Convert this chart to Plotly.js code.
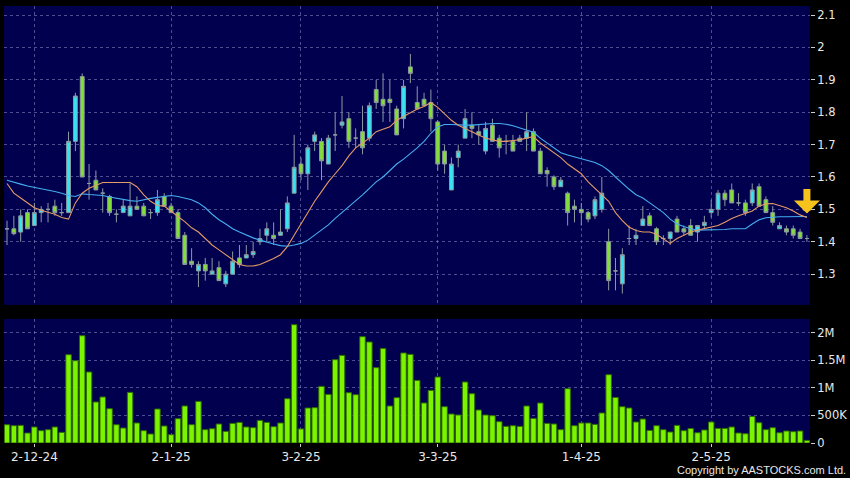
<!DOCTYPE html>
<html>
<head>
<meta charset="utf-8">
<script src="https://cdn.plot.ly/plotly-3.0.1.min.js"></script>
<style>
  html, body { margin: 0; padding: 0; background: #000; }
  #chart { width: 850px; height: 478px; }
</style>
</head>
<body>
<div id="chart"></div>
<script>
// ---- Data ----
const dates = [
  "2024-11-26","2024-11-27","2024-11-28","2024-11-29",
  "2024-12-02","2024-12-03","2024-12-04","2024-12-05","2024-12-06","2024-12-09","2024-12-10","2024-12-11","2024-12-12","2024-12-13",
  "2024-12-16","2024-12-17","2024-12-18","2024-12-19","2024-12-20","2024-12-23","2024-12-24","2024-12-27","2024-12-30","2024-12-31",
  "2025-01-02","2025-01-03","2025-01-06","2025-01-07","2025-01-08","2025-01-09","2025-01-10","2025-01-13","2025-01-14","2025-01-15",
  "2025-01-16","2025-01-17","2025-01-20","2025-01-21","2025-01-22","2025-01-23","2025-01-24","2025-01-27","2025-01-28",
  "2025-02-03","2025-02-04","2025-02-05","2025-02-06","2025-02-07","2025-02-10","2025-02-11","2025-02-12","2025-02-13","2025-02-14",
  "2025-02-17","2025-02-18","2025-02-19","2025-02-20","2025-02-21","2025-02-24","2025-02-25","2025-02-26","2025-02-27","2025-02-28",
  "2025-03-03","2025-03-04","2025-03-05","2025-03-06","2025-03-07","2025-03-10","2025-03-11","2025-03-12","2025-03-13","2025-03-14",
  "2025-03-17","2025-03-18","2025-03-19","2025-03-20","2025-03-21","2025-03-24","2025-03-25","2025-03-26","2025-03-27","2025-03-28","2025-03-31",
  "2025-04-01","2025-04-02","2025-04-03","2025-04-07","2025-04-08","2025-04-09","2025-04-10","2025-04-11","2025-04-14","2025-04-15",
  "2025-04-16","2025-04-17","2025-04-22","2025-04-23","2025-04-24","2025-04-25","2025-04-28","2025-04-29","2025-04-30",
  "2025-05-02","2025-05-06","2025-05-07","2025-05-08","2025-05-09","2025-05-12","2025-05-13","2025-05-14","2025-05-15","2025-05-16",
  "2025-05-19","2025-05-20","2025-05-21","2025-05-22","2025-05-23"
];

const openP = [
  1.44,1.44,1.43,1.49,1.45,1.49,1.50,1.51,1.49,1.49,1.71,1.91,1.58,1.59,1.55,1.54,1.485,1.49,1.48,1.51,
  1.51,1.49,1.49,1.54,1.51,1.49,1.42,1.34,1.31,1.33,1.30,1.32,1.27,1.30,1.35,1.35,1.36,1.40,1.42,1.42,
  1.42,1.44,1.55,1.64,1.61,1.71,1.71,1.64,1.73,1.76,1.78,1.72,1.74,1.72,1.87,1.84,1.84,1.81,1.78,1.94,
  1.83,1.84,1.83,1.77,1.68,1.56,1.66,1.72,1.76,1.74,1.68,1.76,1.72,1.71,1.71,1.72,1.72,1.74,1.68,1.62,
  1.60,1.57,1.55,1.51,1.50,1.49,1.48,1.50,1.40,1.31,1.27,1.41,1.41,1.45,1.48,1.44,1.41,1.41,1.47,1.44,
  1.45,1.43,1.45,1.49,1.50,1.55,1.56,1.52,1.52,1.52,1.57,1.53,1.49,1.44,1.44,1.44,1.43,1.41
];
const highP = [
  1.465,1.48,1.50,1.50,1.52,1.51,1.52,1.53,1.52,1.74,1.86,1.92,1.64,1.62,1.565,1.545,1.50,1.53,1.58,1.54,
  1.52,1.50,1.56,1.55,1.52,1.50,1.43,1.38,1.34,1.35,1.35,1.34,1.31,1.37,1.39,1.39,1.40,1.44,1.46,1.46,
  1.50,1.54,1.73,1.66,1.70,1.74,1.72,1.73,1.80,1.85,1.80,1.75,1.82,1.83,1.90,1.92,1.90,1.82,1.90,1.98,
  1.88,1.86,1.87,1.775,1.70,1.66,1.70,1.81,1.80,1.76,1.77,1.78,1.73,1.73,1.73,1.73,1.80,1.75,1.69,1.63,
  1.605,1.60,1.555,1.53,1.52,1.495,1.54,1.60,1.44,1.35,1.38,1.45,1.44,1.51,1.49,1.445,1.42,1.43,1.48,1.45,
  1.47,1.45,1.48,1.53,1.56,1.56,1.58,1.55,1.53,1.58,1.58,1.54,1.51,1.46,1.45,1.45,1.44,1.42
];
const lowP = [
  1.39,1.42,1.40,1.44,1.45,1.46,1.46,1.48,1.48,1.49,1.68,1.60,1.53,1.56,1.49,1.48,1.46,1.49,1.48,1.50,
  1.48,1.47,1.48,1.51,1.49,1.41,1.33,1.32,1.26,1.28,1.30,1.28,1.26,1.30,1.32,1.35,1.35,1.39,1.40,1.39,
  1.42,1.43,1.55,1.59,1.56,1.68,1.59,1.64,1.68,1.75,1.69,1.69,1.67,1.71,1.81,1.77,1.77,1.73,1.75,1.89,
  1.81,1.82,1.74,1.62,1.61,1.56,1.63,1.72,1.72,1.70,1.67,1.71,1.66,1.67,1.68,1.71,1.68,1.68,1.61,1.57,
  1.56,1.57,1.45,1.46,1.45,1.46,1.47,1.49,1.25,1.25,1.24,1.39,1.39,1.45,1.45,1.39,1.39,1.39,1.43,1.42,
  1.42,1.40,1.44,1.475,1.48,1.51,1.52,1.51,1.48,1.51,1.51,1.49,1.45,1.44,1.42,1.41,1.41,1.40
];
const closeP = [
  1.44,1.425,1.48,1.44,1.49,1.50,1.50,1.49,1.49,1.71,1.85,1.60,1.58,1.56,1.55,1.49,1.485,1.51,1.51,1.50,
  1.48,1.49,1.53,1.51,1.49,1.41,1.33,1.33,1.33,1.31,1.31,1.28,1.30,1.34,1.33,1.36,1.37,1.41,1.44,1.41,
  1.43,1.52,1.63,1.61,1.69,1.73,1.65,1.72,1.73,1.77,1.71,1.72,1.69,1.82,1.83,1.82,1.83,1.73,1.88,1.92,
  1.81,1.82,1.78,1.64,1.64,1.64,1.68,1.78,1.75,1.73,1.75,1.71,1.69,1.71,1.68,1.71,1.74,1.68,1.61,1.61,
  1.57,1.59,1.49,1.50,1.49,1.47,1.53,1.55,1.28,1.31,1.36,1.41,1.42,1.47,1.45,1.40,1.41,1.43,1.43,1.43,
  1.42,1.45,1.46,1.50,1.55,1.53,1.52,1.52,1.49,1.56,1.51,1.49,1.46,1.45,1.43,1.42,1.41,1.41
];

const volume = [
  331000,313000,319000,181000,290000,223000,241000,290000,192000,1598000,1490000,1942000,1285000,742000,833000,621000,331000,271000,916000,362000,
  223000,163000,615000,308000,150000,440000,670000,331000,753000,241000,259000,344000,210000,355000,373000,290000,277000,409000,373000,295000,
  362000,802000,2141000,255000,633000,639000,1025000,880000,1508000,1586000,910000,874000,1924000,1828000,1363000,1712000,670000,820000,1629000,1604000,
  1133000,724000,952000,1195000,657000,525000,507000,1104000,892000,597000,507000,494000,386000,301000,313000,301000,670000,445000,724000,355000,
  344000,241000,983000,313000,362000,362000,337000,543000,1236000,825000,657000,633000,380000,434000,228000,313000,241000,199000,319000,223000,
  264000,186000,235000,380000,264000,264000,290000,181000,168000,481000,367000,241000,277000,186000,217000,205000,217000,47000
];

const ma10 = [
  1.58,1.55,1.535,1.52,1.505,1.497,1.49,1.485,1.475,1.47,1.52,1.55,1.565,1.575,1.583,1.583,1.583,1.583,1.583,1.57,
  1.545,1.525,1.512,1.51,1.495,1.478,1.462,1.443,1.43,1.41,1.39,1.375,1.36,1.345,1.33,1.325,1.325,1.33,1.338,1.348,
  1.36,1.385,1.42,1.455,1.49,1.525,1.555,1.585,1.61,1.635,1.665,1.69,1.705,1.72,1.74,1.748,1.755,1.775,1.787,1.80,
  1.81,1.818,1.83,1.815,1.795,1.775,1.76,1.75,1.74,1.73,1.72,1.715,1.71,1.71,1.712,1.715,1.72,1.725,1.705,1.69,
  1.675,1.66,1.64,1.625,1.61,1.585,1.565,1.545,1.525,1.49,1.465,1.445,1.435,1.43,1.43,1.423,1.408,1.395,1.41,1.42,
  1.43,1.436,1.44,1.445,1.45,1.46,1.472,1.48,1.487,1.495,1.51,1.517,1.518,1.512,1.505,1.495,1.483,1.475
];
const ma20 = [
  1.59,1.585,1.578,1.572,1.568,1.565,1.56,1.555,1.55,1.543,1.54,1.548,1.546,1.545,1.543,1.538,1.534,1.53,1.527,1.525,
  1.53,1.534,1.537,1.54,1.543,1.54,1.535,1.53,1.52,1.505,1.485,1.468,1.455,1.44,1.43,1.42,1.412,1.405,1.398,1.393,
  1.388,1.386,1.39,1.395,1.405,1.42,1.435,1.452,1.472,1.49,1.51,1.528,1.545,1.565,1.585,1.60,1.62,1.64,1.655,1.672,
  1.69,1.71,1.735,1.755,1.762,1.762,1.76,1.76,1.76,1.762,1.763,1.765,1.765,1.763,1.758,1.752,1.745,1.738,1.72,1.705,
  1.69,1.675,1.668,1.662,1.655,1.65,1.645,1.635,1.62,1.60,1.58,1.562,1.545,1.535,1.52,1.505,1.49,1.47,1.455,1.447,
  1.44,1.436,1.436,1.436,1.437,1.438,1.44,1.44,1.44,1.455,1.468,1.474,1.476,1.477,1.477,1.478,1.478,1.478
];

const tickDates  = ["2024-12-02","2025-01-02","2025-02-03","2025-03-03","2025-04-01","2025-05-02"];
const tickLabels = ["2-12-24","2-1-25","3-2-25","3-3-25","1-4-25","2-5-25"];
const priceTicks = [1.3,1.4,1.5,1.6,1.7,1.8,1.9,2.0,2.1];
const priceTickLabels = ["1.3","1.4","1.5","1.6","1.7","1.8","1.9","2","2.1"];
const volTicks = [0,500000,1000000,1500000,2000000];
const volTickLabels = ["0","500K","1M","1.5M","2M"];

// ---- Styles ----
const NAVY = "#00004e";
const GRID = "rgba(140,140,200,0.55)";
const TXT = "#e8e8e8";
const CANDLE_LINE = "#8c9aa0";

const traces = [
  {
    type: "scatter", mode: "lines", x: dates, y: ma20, xaxis: "x", yaxis: "y",
    line: { color: "#45aef0", width: 1.1 }, hoverinfo: "skip"
  },
  {
    type: "scatter", mode: "lines", x: dates, y: ma10, xaxis: "x", yaxis: "y",
    line: { color: "#e49a66", width: 1.1 }, hoverinfo: "skip"
  },
  {
    type: "candlestick", x: dates, open: openP, high: highP, low: lowP, close: closeP,
    xaxis: "x", yaxis: "y",
    increasing: { fillcolor: "#36e3f2", line: { color: CANDLE_LINE, width: 1 } },
    decreasing: { fillcolor: "#82e032", line: { color: CANDLE_LINE, width: 1 } },
    whiskerwidth: 0, hoverinfo: "skip"
  },
  {
    type: "bar", x: dates, y: volume, xaxis: "x", yaxis: "y2",
    marker: { color: "#7cf400", line: { color: "#2f6a00", width: 1 } },
    hoverinfo: "skip"
  }
];

const layout = {
  width: 850, height: 478,
  paper_bgcolor: "#000000",
  plot_bgcolor: NAVY,
  margin: { l: 4, r: 40, t: 6, b: 35 },
  showlegend: false,
  bargap: 0.2,
  boxgap: 0.2,
  font: { family: "DejaVu Sans, sans-serif", color: TXT, size: 11 },
  xaxis: {
    type: "category",
    anchor: "y2",
    range: [-0.44, 117.45],
    rangeslider: { visible: false },
    tickmode: "array", tickvals: tickDates, ticktext: tickLabels,
    ticks: "outside", ticklen: 3, tickcolor: "#cccccc",
    tickfont: { size: 12, color: TXT },
    showgrid: true, gridcolor: GRID, griddash: "3px,3px", gridwidth: 1,
    zeroline: false, showline: false
  },
  yaxis: {
    domain: [0.316, 1],
    side: "right",
    range: [1.205, 2.128],
    tickmode: "array", tickvals: priceTicks, ticktext: priceTickLabels,
    ticks: "outside", ticklen: 4, tickcolor: "#cccccc",
    tickfont: { size: 11.5, color: TXT },
    showgrid: true, gridcolor: GRID, griddash: "3px,3px", gridwidth: 1,
    zeroline: false, showline: false
  },
  yaxis2: {
    domain: [0, 0.284],
    side: "right",
    range: [0, 2246000],
    tickmode: "array", tickvals: volTicks, ticktext: volTickLabels,
    ticks: "outside", ticklen: 4, tickcolor: "#cccccc",
    tickfont: { size: 11.5, color: TXT },
    showgrid: true, gridcolor: GRID, griddash: "3px,3px", gridwidth: 1,
    zeroline: false, showline: false
  },
  annotations: [
    {
      x: dates[dates.length - 1], y: ma10[ma10.length - 1], xref: "x", yref: "y",
      showarrow: true, ax: 0, ay: -30, arrowhead: 1, arrowsize: 0.62, arrowwidth: 7,
      arrowcolor: "#f6c21c", standoff: 4, text: ""
    },
    {
      text: "Copyright by AASTOCKS.com Ltd.",
      xref: "paper", yref: "paper", x: 1.0467, y: -0.062,
      xanchor: "right", yanchor: "middle", showarrow: false,
      font: { family: "Liberation Sans, sans-serif", size: 11, color: TXT }
    }
  ]
};

Plotly.newPlot("chart", traces, layout, { staticPlot: true, displayModeBar: false });
</script>
</body>
</html>
